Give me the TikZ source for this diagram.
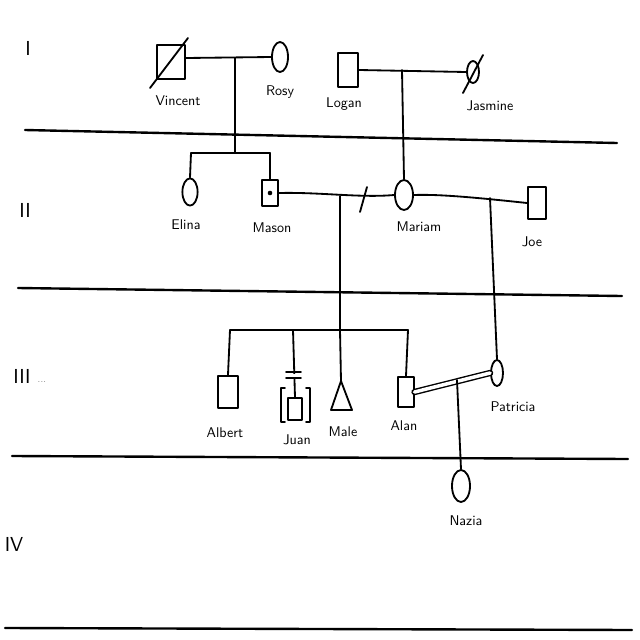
\documentclass[tikz,border=0pt]{standalone}
\usetikzlibrary{shapes.geometric}
\begin{document}
\begin{tikzpicture}[x=0.025cm,y=-0.025cm,
  line width=1.3pt, line cap=round, line join=round,
  sq/.style={draw, rectangle, inner sep=0pt, fill=white, line width=1.3pt},
  ci/.style={draw, ellipse, inner sep=0pt, fill=white, line width=1.3pt},
  lbl/.style={font=\sffamily, inner sep=0pt},
  gen/.style={font=\sffamily\Large, inner sep=0pt},
  sep/.style={line width=1.7pt}]
\useasboundingbox (0,0) rectangle (640,640);
% generation separators
\coordinate (s1a) at (25,130); \coordinate (s1b) at (617,143);
\coordinate (s2a) at (18,288); \coordinate (s2b) at (622,296);
\coordinate (s3a) at (12,456); \coordinate (s3b) at (628,459);
\coordinate (s4a) at (5,628);  \coordinate (s4b) at (632,630);
\draw[sep] (s1a) -- (s1b);
\draw[sep] (s2a) -- (s2b);
\draw[sep] (s3a) -- (s3b);
\draw[sep] (s4a) -- (s4b);
% generation numerals
\node[gen] (g1) at (28,48) {I};
\node[gen] (g2) at (25,210) {II};
\node[gen] (g3) at (22,376) {III};
\node[font=\tiny, inner sep=0pt] (g3d) at (42,382) {...};
\node[gen] (g4) at (14,544) {IV};

% ---------- Generation I ----------
\node[sq, minimum width=0.7cm, minimum height=0.85cm] (vincent) at (171,62) {};
\coordinate (vd1) at (150,88); \coordinate (vd2) at (188,38);
\draw (vd1) -- (vd2);
\node[ci, minimum width=0.4cm, minimum height=0.75cm] (rosy) at (280,57) {};
\node[sq, minimum width=0.52cm, minimum height=0.85cm] (logan) at (348,70) {};
\node[ci, minimum width=0.3cm, minimum height=0.55cm] (jasmine) at (473,72) {};
\coordinate (jd1) at (463,93); \coordinate (jd2) at (483,55);
\draw (jd1) -- (jd2);
\draw (vincent.east |- 0,58) -- (rosy.west);
\draw (logan.east) -- (jasmine.west);
\coordinate (vr) at (235,58);
\coordinate (lj) at (402,70);

% ---------- Generation II ----------
\node[ci, minimum width=0.38cm, minimum height=0.68cm] (elina) at (190,192) {};
\node[sq, minimum width=0.4cm, minimum height=0.65cm] (mason) at (270,193) {};
\fill (mason.center) circle (2.3);
\node[ci, minimum width=0.45cm, minimum height=0.75cm] (mariam) at (404,195) {};
\node[sq, minimum width=0.45cm, minimum height=0.8cm] (joe) at (537,203) {};
\coordinate (sib2) at (235,153);
\coordinate (sib2l) at (191,153);
\coordinate (sib2r) at (270,153);
\draw (vr) -- (sib2);
\draw (sib2l) -- (sib2r);
\draw (sib2l) -- (elina.north);
\draw (sib2r) -- (mason.north);
\draw (lj) -- (mariam.north);
\draw (mason.east) .. controls (320,192) and (360,198) .. (mariam.west);
\coordinate (div1) at (360,212); \coordinate (div2) at (367,187);
\draw (div1) -- (div2);
\draw (mariam.east) .. controls (440,194) and (480,198) .. (joe.west);
\coordinate (mm) at (340,196);
\coordinate (mj) at (490,198);

% ---------- Generation III ----------
\coordinate (sib3) at (340,330);
\coordinate (sib3l) at (230,330);
\coordinate (sib3r) at (408,330);
\coordinate (sibj) at (293,330);
\draw (mm) -- (sib3);
\draw (sib3l) -- (sib3r);
\node[sq, minimum width=0.48cm, minimum height=0.82cm] (albert) at (228,392) {};
\node[sq, minimum width=0.33cm, minimum height=0.55cm] (juan) at (295,409) {};
\coordinate (male) at (341,381);
\coordinate (maleL) at (331,410); \coordinate (maleR) at (352,410);
\draw (male) -- (maleR) -- (maleL) -- cycle;
\node[sq, minimum width=0.38cm, minimum height=0.75cm] (alan) at (406,392) {};
\node[ci, minimum width=0.3cm, minimum height=0.65cm] (patricia) at (497,373) {};
\draw (sib3l) -- (albert.north);
\draw (sibj) -- (juan.north);
\draw (sib3) -- (male);
\draw (sib3r) -- (alan.north);
% adoption brackets and bars for Juan
\coordinate (jb1) at (286,372); \coordinate (jb2) at (301,372);
\coordinate (jb3) at (286,378); \coordinate (jb4) at (301,378);
\fill[white] (286,373.5) rectangle (301,376.5);
\draw (jb1) -- (jb2);
\draw (jb3) -- (jb4);
\draw (285,388) -- (281,388) -- (281,422) -- (285,422);
\draw (306,388) -- (310,388) -- (310,422) -- (306,422);
\draw (mj) -- (patricia.north);
\draw[double, double distance=2.5pt, line width=1pt] (alan.east) -- (patricia.west);
\coordinate (ap) at (457,380);

% ---------- Generation IV ----------
\node[ci, minimum width=0.45cm, minimum height=0.8cm] (nazia) at (461,486) {};
\draw (ap) -- (nazia.north);

% labels
\node[lbl] (lv) at (178,101) {Vincent};
\node[lbl] (lr) at (280,92) {Rosy};
\node[lbl] (ll) at (344,104) {Logan};
\node[lbl] (lja) at (490,106) {Jasmine};
\node[lbl] (le) at (186,225) {Elina};
\node[lbl] (lm) at (272,228) {Mason};
\node[lbl] (lma) at (419,227) {Mariam};
\node[lbl] (ljo) at (532,242) {Joe};
\node[lbl] (lal) at (225,433) {Albert};
\node[lbl] (lju) at (297,440) {Juan};
\node[lbl] (lmal) at (343,432) {Male};
\node[lbl] (lan) at (404,426) {Alan};
\node[lbl] (lp) at (513,407) {Patricia};
\node[lbl] (ln) at (466,521) {Nazia};
\end{tikzpicture}
\end{document}
